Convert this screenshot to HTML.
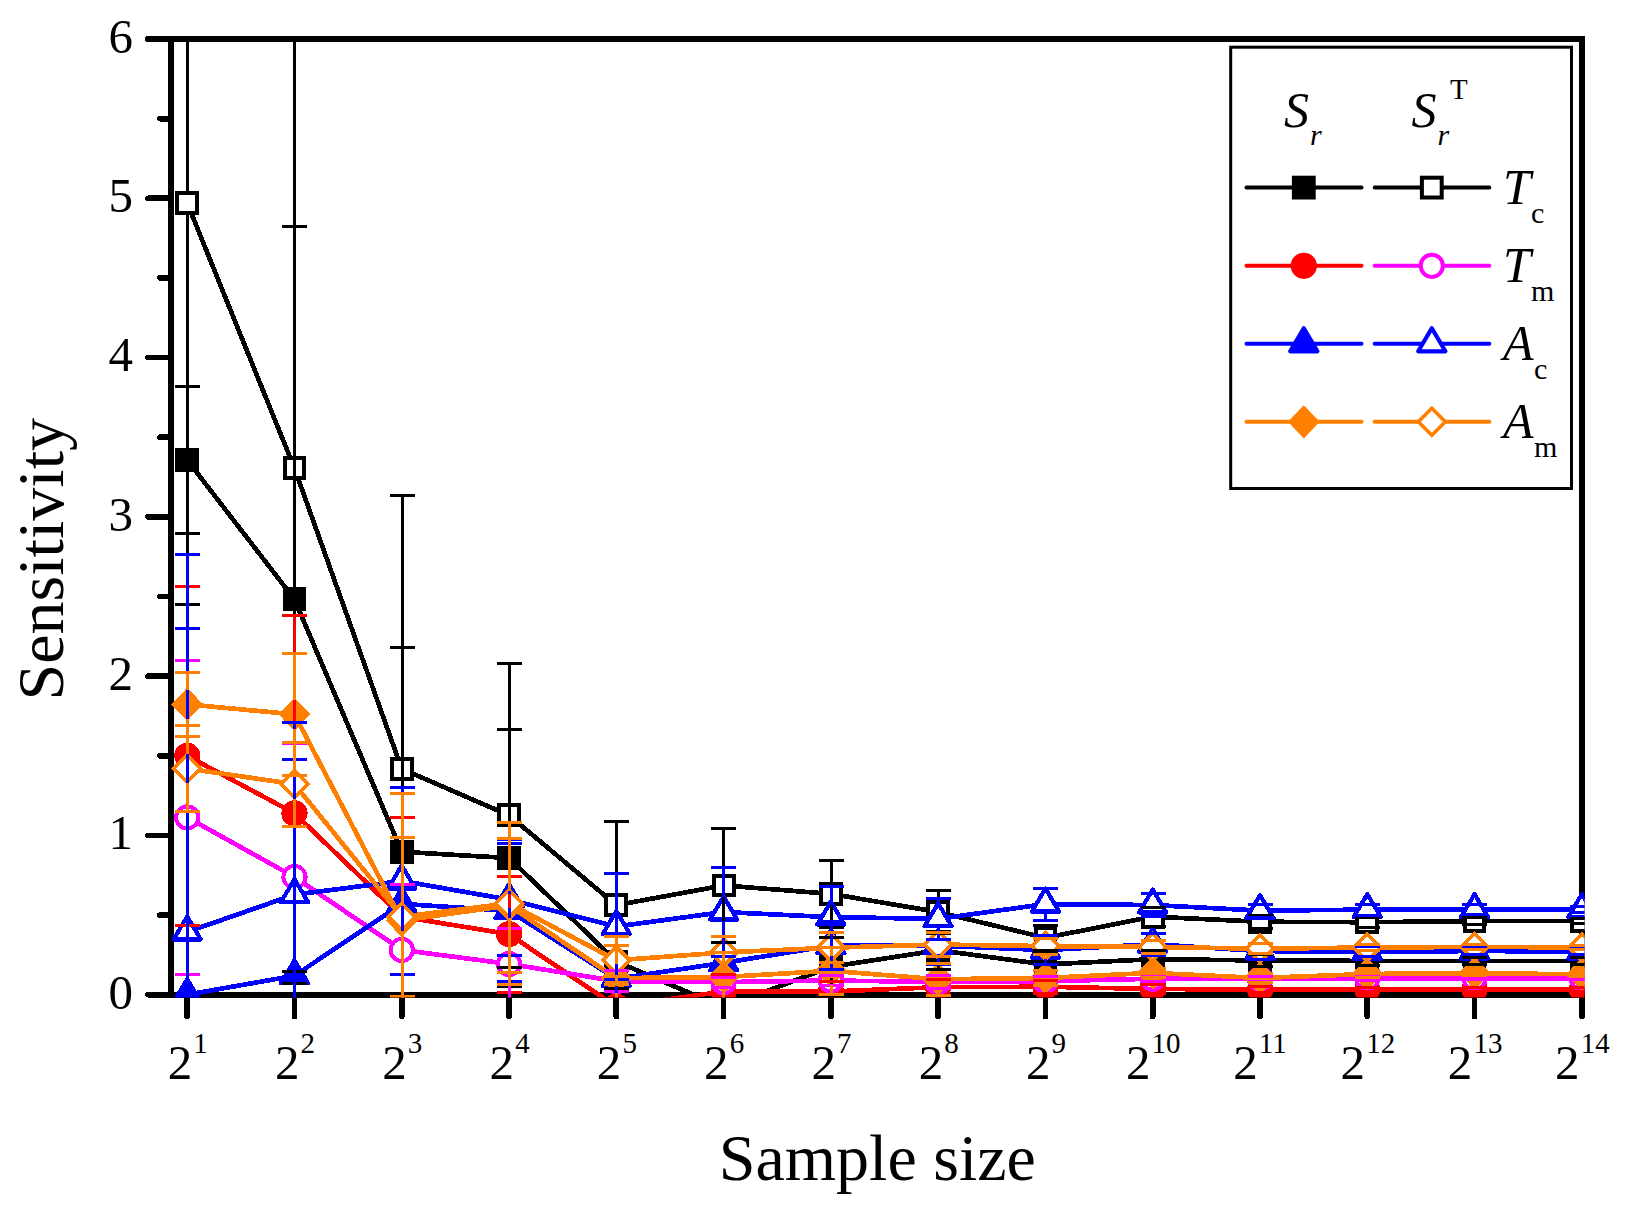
<!DOCTYPE html>
<html lang="en"><head><meta charset="utf-8"><title>Sensitivity vs sample size</title>
<style>html,body{margin:0;padding:0;background:#fff}svg{display:block}text{font-family:"Liberation Serif",serif;fill:#000}.i{font-style:italic}</style></head><body>
<svg width="1628" height="1208" viewBox="0 0 1628 1208">
<rect width="1628" height="1208" fill="#fff"/>
<g stroke="#000" stroke-width="5.7" stroke-linecap="round" fill="none" shape-rendering="crispEdges">
<rect x="171.2" y="39" width="1410.8" height="955.7" stroke-linejoin="miter"/>
<line x1="148" y1="994.7" x2="171.2" y2="994.7"/>
<line x1="148" y1="835.42" x2="171.2" y2="835.42"/>
<line x1="148" y1="676.14" x2="171.2" y2="676.14"/>
<line x1="148" y1="516.86" x2="171.2" y2="516.86"/>
<line x1="148" y1="357.58" x2="171.2" y2="357.58"/>
<line x1="148" y1="198.3" x2="171.2" y2="198.3"/>
<line x1="148" y1="39.02" x2="171.2" y2="39.02"/>
<line x1="160" y1="915.06" x2="171.2" y2="915.06"/>
<line x1="160" y1="755.78" x2="171.2" y2="755.78"/>
<line x1="160" y1="596.5" x2="171.2" y2="596.5"/>
<line x1="160" y1="437.22" x2="171.2" y2="437.22"/>
<line x1="160" y1="277.94" x2="171.2" y2="277.94"/>
<line x1="160" y1="118.66" x2="171.2" y2="118.66"/>
<line x1="187.2" y1="994.7" x2="187.2" y2="1016.5"/>
<line x1="294.48" y1="994.7" x2="294.48" y2="1016.5"/>
<line x1="401.76" y1="994.7" x2="401.76" y2="1016.5"/>
<line x1="509.04" y1="994.7" x2="509.04" y2="1016.5"/>
<line x1="616.32" y1="994.7" x2="616.32" y2="1016.5"/>
<line x1="723.6" y1="994.7" x2="723.6" y2="1016.5"/>
<line x1="830.88" y1="994.7" x2="830.88" y2="1016.5"/>
<line x1="938.16" y1="994.7" x2="938.16" y2="1016.5"/>
<line x1="1045.44" y1="994.7" x2="1045.44" y2="1016.5"/>
<line x1="1152.72" y1="994.7" x2="1152.72" y2="1016.5"/>
<line x1="1260" y1="994.7" x2="1260" y2="1016.5"/>
<line x1="1367.28" y1="994.7" x2="1367.28" y2="1016.5"/>
<line x1="1474.56" y1="994.7" x2="1474.56" y2="1016.5"/>
<line x1="1581.84" y1="994.7" x2="1581.84" y2="1016.5"/>
</g>
<g font-size="49">
<text x="133" y="1008.5" text-anchor="end">0</text>
<text x="133" y="849.22" text-anchor="end">1</text>
<text x="133" y="689.94" text-anchor="end">2</text>
<text x="133" y="530.66" text-anchor="end">3</text>
<text x="133" y="371.38" text-anchor="end">4</text>
<text x="133" y="212.1" text-anchor="end">5</text>
<text x="133" y="52.82" text-anchor="end">6</text>
<text x="167.7" y="1079">2</text><text x="193.3" y="1052.5" font-size="29">1</text>
<text x="274.98" y="1079">2</text><text x="300.58" y="1052.5" font-size="29">2</text>
<text x="382.26" y="1079">2</text><text x="407.86" y="1052.5" font-size="29">3</text>
<text x="489.54" y="1079">2</text><text x="515.14" y="1052.5" font-size="29">4</text>
<text x="596.82" y="1079">2</text><text x="622.42" y="1052.5" font-size="29">5</text>
<text x="704.1" y="1079">2</text><text x="729.7" y="1052.5" font-size="29">6</text>
<text x="811.38" y="1079">2</text><text x="836.98" y="1052.5" font-size="29">7</text>
<text x="918.66" y="1079">2</text><text x="944.26" y="1052.5" font-size="29">8</text>
<text x="1025.94" y="1079">2</text><text x="1051.54" y="1052.5" font-size="29">9</text>
<text x="1125.97" y="1079">2</text><text x="1151.57" y="1052.5" font-size="29">10</text>
<text x="1233.25" y="1079">2</text><text x="1258.85" y="1052.5" font-size="29">11</text>
<text x="1340.53" y="1079">2</text><text x="1366.13" y="1052.5" font-size="29">12</text>
<text x="1447.81" y="1079">2</text><text x="1473.41" y="1052.5" font-size="29">13</text>
<text x="1555.09" y="1079">2</text><text x="1580.69" y="1052.5" font-size="29">14</text>
</g>
<text x="877.3" y="1180" font-size="66" text-anchor="middle">Sample size</text>
<text transform="translate(62.8 700.4) rotate(-90)" font-size="66">Sensitivity</text>
<clipPath id="c"><rect x="168.4" y="36.2" width="1416.2" height="961.2"/></clipPath>
<g clip-path="url(#c)" shape-rendering="crispEdges">
<polyline points="187.2,460 294.48,599.37 401.76,851.83 509.04,858.04 616.32,961.41 723.6,1007.44 830.88,966.83 938.16,950.26 1045.44,964.44 1152.72,959.18 1260,960.45 1367.28,960.93 1474.56,961.09 1581.84,961.09" fill="none" stroke="#000000" stroke-width="4.7" stroke-linejoin="round"/>
<rect x="175.3" y="448.1" width="23.8" height="23.8" fill="#000000"/>
<rect x="282.58" y="587.47" width="23.8" height="23.8" fill="#000000"/>
<rect x="389.86" y="839.93" width="23.8" height="23.8" fill="#000000"/>
<rect x="497.14" y="846.14" width="23.8" height="23.8" fill="#000000"/>
<rect x="604.42" y="949.51" width="23.8" height="23.8" fill="#000000"/>
<rect x="711.7" y="995.54" width="23.8" height="23.8" fill="#000000"/>
<rect x="818.98" y="954.93" width="23.8" height="23.8" fill="#000000"/>
<rect x="926.26" y="938.36" width="23.8" height="23.8" fill="#000000"/>
<rect x="1033.54" y="952.54" width="23.8" height="23.8" fill="#000000"/>
<rect x="1140.82" y="947.28" width="23.8" height="23.8" fill="#000000"/>
<rect x="1248.1" y="948.55" width="23.8" height="23.8" fill="#000000"/>
<rect x="1355.38" y="949.03" width="23.8" height="23.8" fill="#000000"/>
<rect x="1462.66" y="949.19" width="23.8" height="23.8" fill="#000000"/>
<rect x="1569.94" y="949.19" width="23.8" height="23.8" fill="#000000"/>
<polyline points="187.2,203.08 294.48,468.28 401.76,768.84 509.04,815.35 616.32,905.18 723.6,885.43 830.88,893.88 938.16,912.03 1045.44,937.84 1152.72,916.65 1260,921.75 1367.28,922.23 1474.56,921.11 1581.84,921.11" fill="none" stroke="#000000" stroke-width="4.7" stroke-linejoin="round"/>
<rect x="177.3" y="193.18" width="19.8" height="19.8" fill="#fff" stroke="#000000" stroke-width="4"/>
<rect x="284.58" y="458.38" width="19.8" height="19.8" fill="#fff" stroke="#000000" stroke-width="4"/>
<rect x="391.86" y="758.94" width="19.8" height="19.8" fill="#fff" stroke="#000000" stroke-width="4"/>
<rect x="499.14" y="805.45" width="19.8" height="19.8" fill="#fff" stroke="#000000" stroke-width="4"/>
<rect x="606.42" y="895.28" width="19.8" height="19.8" fill="#fff" stroke="#000000" stroke-width="4"/>
<rect x="713.7" y="875.53" width="19.8" height="19.8" fill="#fff" stroke="#000000" stroke-width="4"/>
<rect x="820.98" y="883.98" width="19.8" height="19.8" fill="#fff" stroke="#000000" stroke-width="4"/>
<rect x="928.26" y="902.13" width="19.8" height="19.8" fill="#fff" stroke="#000000" stroke-width="4"/>
<rect x="1035.54" y="927.94" width="19.8" height="19.8" fill="#fff" stroke="#000000" stroke-width="4"/>
<rect x="1142.82" y="906.75" width="19.8" height="19.8" fill="#fff" stroke="#000000" stroke-width="4"/>
<rect x="1250.1" y="911.85" width="19.8" height="19.8" fill="#fff" stroke="#000000" stroke-width="4"/>
<rect x="1357.38" y="912.33" width="19.8" height="19.8" fill="#fff" stroke="#000000" stroke-width="4"/>
<rect x="1464.66" y="911.21" width="19.8" height="19.8" fill="#fff" stroke="#000000" stroke-width="4"/>
<rect x="1571.94" y="911.21" width="19.8" height="19.8" fill="#fff" stroke="#000000" stroke-width="4"/>
<polyline points="187.2,755.78 294.48,813.28 401.76,916.65 509.04,934.17 616.32,1006.65 723.6,991.51 830.88,991.51 938.16,987.21 1045.44,986.74 1152.72,988.97 1260,989.6 1367.28,989.6 1474.56,989.44 1581.84,989.44" fill="none" stroke="#ff0000" stroke-width="4.7" stroke-linejoin="round"/>
<circle cx="187.2" cy="755.78" r="13.1" fill="#ff0000"/>
<circle cx="294.48" cy="813.28" r="13.1" fill="#ff0000"/>
<circle cx="401.76" cy="916.65" r="13.1" fill="#ff0000"/>
<circle cx="509.04" cy="934.17" r="13.1" fill="#ff0000"/>
<circle cx="616.32" cy="1006.65" r="13.1" fill="#ff0000"/>
<circle cx="723.6" cy="991.51" r="13.1" fill="#ff0000"/>
<circle cx="830.88" cy="991.51" r="13.1" fill="#ff0000"/>
<circle cx="938.16" cy="987.21" r="13.1" fill="#ff0000"/>
<circle cx="1045.44" cy="986.74" r="13.1" fill="#ff0000"/>
<circle cx="1152.72" cy="988.97" r="13.1" fill="#ff0000"/>
<circle cx="1260" cy="989.6" r="13.1" fill="#ff0000"/>
<circle cx="1367.28" cy="989.6" r="13.1" fill="#ff0000"/>
<circle cx="1474.56" cy="989.44" r="13.1" fill="#ff0000"/>
<circle cx="1581.84" cy="989.44" r="13.1" fill="#ff0000"/>
<polyline points="187.2,817.42 294.48,876.99 401.76,949.94 509.04,963.96 616.32,981.16 723.6,982.12 830.88,980.52 938.16,981.96 1045.44,981.16 1152.72,978.77 1260,978.77 1367.28,978.45 1474.56,978.29 1581.84,978.29" fill="none" stroke="#ff00ff" stroke-width="4.7" stroke-linejoin="round"/>
<circle cx="187.2" cy="817.42" r="11.1" fill="#fff" stroke="#ff00ff" stroke-width="4"/>
<circle cx="294.48" cy="876.99" r="11.1" fill="#fff" stroke="#ff00ff" stroke-width="4"/>
<circle cx="401.76" cy="949.94" r="11.1" fill="#fff" stroke="#ff00ff" stroke-width="4"/>
<circle cx="509.04" cy="963.96" r="11.1" fill="#fff" stroke="#ff00ff" stroke-width="4"/>
<circle cx="616.32" cy="981.16" r="11.1" fill="#fff" stroke="#ff00ff" stroke-width="4"/>
<circle cx="723.6" cy="982.12" r="11.1" fill="#fff" stroke="#ff00ff" stroke-width="4"/>
<circle cx="830.88" cy="980.52" r="11.1" fill="#fff" stroke="#ff00ff" stroke-width="4"/>
<circle cx="938.16" cy="981.96" r="11.1" fill="#fff" stroke="#ff00ff" stroke-width="4"/>
<circle cx="1045.44" cy="981.16" r="11.1" fill="#fff" stroke="#ff00ff" stroke-width="4"/>
<circle cx="1152.72" cy="978.77" r="11.1" fill="#fff" stroke="#ff00ff" stroke-width="4"/>
<circle cx="1260" cy="978.77" r="11.1" fill="#fff" stroke="#ff00ff" stroke-width="4"/>
<circle cx="1367.28" cy="978.45" r="11.1" fill="#fff" stroke="#ff00ff" stroke-width="4"/>
<circle cx="1474.56" cy="978.29" r="11.1" fill="#fff" stroke="#ff00ff" stroke-width="4"/>
<circle cx="1581.84" cy="978.29" r="11.1" fill="#fff" stroke="#ff00ff" stroke-width="4"/>
<polyline points="187.2,994.7 294.48,975.75 401.76,903.91 509.04,910.76 616.32,978.77 723.6,962.84 830.88,945.64 938.16,945.64 1045.44,950.1 1152.72,944.21 1260,951.06 1367.28,951.69 1474.56,951.06 1581.84,951.38" fill="none" stroke="#0000ff" stroke-width="4.7" stroke-linejoin="round"/>
<polygon points="187.2,979.2 200.8,1002.2 173.6,1002.2" fill="#0000ff" stroke="#0000ff" stroke-width="4.2" stroke-linejoin="round"/>
<polygon points="294.48,960.25 308.08,983.25 280.88,983.25" fill="#0000ff" stroke="#0000ff" stroke-width="4.2" stroke-linejoin="round"/>
<polygon points="401.76,888.41 415.36,911.41 388.16,911.41" fill="#0000ff" stroke="#0000ff" stroke-width="4.2" stroke-linejoin="round"/>
<polygon points="509.04,895.26 522.64,918.26 495.44,918.26" fill="#0000ff" stroke="#0000ff" stroke-width="4.2" stroke-linejoin="round"/>
<polygon points="616.32,963.27 629.92,986.27 602.72,986.27" fill="#0000ff" stroke="#0000ff" stroke-width="4.2" stroke-linejoin="round"/>
<polygon points="723.6,947.34 737.2,970.34 710,970.34" fill="#0000ff" stroke="#0000ff" stroke-width="4.2" stroke-linejoin="round"/>
<polygon points="830.88,930.14 844.48,953.14 817.28,953.14" fill="#0000ff" stroke="#0000ff" stroke-width="4.2" stroke-linejoin="round"/>
<polygon points="938.16,930.14 951.76,953.14 924.56,953.14" fill="#0000ff" stroke="#0000ff" stroke-width="4.2" stroke-linejoin="round"/>
<polygon points="1045.44,934.6 1059.04,957.6 1031.84,957.6" fill="#0000ff" stroke="#0000ff" stroke-width="4.2" stroke-linejoin="round"/>
<polygon points="1152.72,928.71 1166.32,951.71 1139.12,951.71" fill="#0000ff" stroke="#0000ff" stroke-width="4.2" stroke-linejoin="round"/>
<polygon points="1260,935.56 1273.6,958.56 1246.4,958.56" fill="#0000ff" stroke="#0000ff" stroke-width="4.2" stroke-linejoin="round"/>
<polygon points="1367.28,936.19 1380.88,959.19 1353.68,959.19" fill="#0000ff" stroke="#0000ff" stroke-width="4.2" stroke-linejoin="round"/>
<polygon points="1474.56,935.56 1488.16,958.56 1460.96,958.56" fill="#0000ff" stroke="#0000ff" stroke-width="4.2" stroke-linejoin="round"/>
<polygon points="1581.84,935.88 1595.44,958.88 1568.24,958.88" fill="#0000ff" stroke="#0000ff" stroke-width="4.2" stroke-linejoin="round"/>
<polyline points="187.2,931.94 294.48,894.67 401.76,880.97 509.04,899.61 616.32,926.53 723.6,912.03 830.88,917.13 938.16,918.88 1045.44,904.07 1152.72,905.03 1260,910.6 1367.28,909.64 1474.56,909.64 1581.84,909.64" fill="none" stroke="#0000ff" stroke-width="4.7" stroke-linejoin="round"/>
<polygon points="187.2,916.44 200.8,939.44 173.6,939.44" fill="#fff" stroke="#0000ff" stroke-width="4.2" stroke-linejoin="round"/>
<polygon points="294.48,879.17 308.08,902.17 280.88,902.17" fill="#fff" stroke="#0000ff" stroke-width="4.2" stroke-linejoin="round"/>
<polygon points="401.76,865.47 415.36,888.47 388.16,888.47" fill="#fff" stroke="#0000ff" stroke-width="4.2" stroke-linejoin="round"/>
<polygon points="509.04,884.11 522.64,907.11 495.44,907.11" fill="#fff" stroke="#0000ff" stroke-width="4.2" stroke-linejoin="round"/>
<polygon points="616.32,911.03 629.92,934.03 602.72,934.03" fill="#fff" stroke="#0000ff" stroke-width="4.2" stroke-linejoin="round"/>
<polygon points="723.6,896.53 737.2,919.53 710,919.53" fill="#fff" stroke="#0000ff" stroke-width="4.2" stroke-linejoin="round"/>
<polygon points="830.88,901.63 844.48,924.63 817.28,924.63" fill="#fff" stroke="#0000ff" stroke-width="4.2" stroke-linejoin="round"/>
<polygon points="938.16,903.38 951.76,926.38 924.56,926.38" fill="#fff" stroke="#0000ff" stroke-width="4.2" stroke-linejoin="round"/>
<polygon points="1045.44,888.57 1059.04,911.57 1031.84,911.57" fill="#fff" stroke="#0000ff" stroke-width="4.2" stroke-linejoin="round"/>
<polygon points="1152.72,889.53 1166.32,912.53 1139.12,912.53" fill="#fff" stroke="#0000ff" stroke-width="4.2" stroke-linejoin="round"/>
<polygon points="1260,895.1 1273.6,918.1 1246.4,918.1" fill="#fff" stroke="#0000ff" stroke-width="4.2" stroke-linejoin="round"/>
<polygon points="1367.28,894.14 1380.88,917.14 1353.68,917.14" fill="#fff" stroke="#0000ff" stroke-width="4.2" stroke-linejoin="round"/>
<polygon points="1474.56,894.14 1488.16,917.14 1460.96,917.14" fill="#fff" stroke="#0000ff" stroke-width="4.2" stroke-linejoin="round"/>
<polygon points="1581.84,894.14 1595.44,917.14 1568.24,917.14" fill="#fff" stroke="#0000ff" stroke-width="4.2" stroke-linejoin="round"/>
<polyline points="187.2,704.33 294.48,714.37 401.76,920.48 509.04,905.5 616.32,978.13 723.6,977.02 830.88,970.81 938.16,979.25 1045.44,977.98 1152.72,972.88 1260,977.98 1367.28,973.99 1474.56,973.2 1581.84,974.31" fill="none" stroke="#ff8000" stroke-width="4.7" stroke-linejoin="round"/>
<polygon points="187.2,687.73 203.1,704.33 187.2,720.93 171.3,704.33" fill="#ff8000"/>
<polygon points="294.48,697.77 310.38,714.37 294.48,730.97 278.58,714.37" fill="#ff8000"/>
<polygon points="401.76,903.88 417.66,920.48 401.76,937.08 385.86,920.48" fill="#ff8000"/>
<polygon points="509.04,888.9 524.94,905.5 509.04,922.1 493.14,905.5" fill="#ff8000"/>
<polygon points="616.32,961.53 632.22,978.13 616.32,994.73 600.42,978.13" fill="#ff8000"/>
<polygon points="723.6,960.42 739.5,977.02 723.6,993.62 707.7,977.02" fill="#ff8000"/>
<polygon points="830.88,954.21 846.78,970.81 830.88,987.41 814.98,970.81" fill="#ff8000"/>
<polygon points="938.16,962.65 954.06,979.25 938.16,995.85 922.26,979.25" fill="#ff8000"/>
<polygon points="1045.44,961.38 1061.34,977.98 1045.44,994.58 1029.54,977.98" fill="#ff8000"/>
<polygon points="1152.72,956.28 1168.62,972.88 1152.72,989.48 1136.82,972.88" fill="#ff8000"/>
<polygon points="1260,961.38 1275.9,977.98 1260,994.58 1244.1,977.98" fill="#ff8000"/>
<polygon points="1367.28,957.39 1383.18,973.99 1367.28,990.59 1351.38,973.99" fill="#ff8000"/>
<polygon points="1474.56,956.6 1490.46,973.2 1474.56,989.8 1458.66,973.2" fill="#ff8000"/>
<polygon points="1581.84,957.71 1597.74,974.31 1581.84,990.91 1565.94,974.31" fill="#ff8000"/>
<polyline points="187.2,768.52 294.48,784.13 401.76,916.81 509.04,903.43 616.32,960.3 723.6,952.49 830.88,947.71 938.16,944.53 1045.44,946.12 1152.72,946.92 1260,948.67 1367.28,947.55 1474.56,946.92 1581.84,947.39" fill="none" stroke="#ff8000" stroke-width="4.7" stroke-linejoin="round"/>
<polygon points="187.2,755.07 200.65,768.52 187.2,781.98 173.75,768.52" fill="#fff" stroke="#ff8000" stroke-width="3.6"/>
<polygon points="294.48,770.68 307.93,784.13 294.48,797.59 281.03,784.13" fill="#fff" stroke="#ff8000" stroke-width="3.6"/>
<polygon points="401.76,903.36 415.21,916.81 401.76,930.27 388.31,916.81" fill="#fff" stroke="#ff8000" stroke-width="3.6"/>
<polygon points="509.04,889.98 522.49,903.43 509.04,916.89 495.59,903.43" fill="#fff" stroke="#ff8000" stroke-width="3.6"/>
<polygon points="616.32,946.84 629.77,960.3 616.32,973.75 602.87,960.3" fill="#fff" stroke="#ff8000" stroke-width="3.6"/>
<polygon points="723.6,939.04 737.05,952.49 723.6,965.95 710.15,952.49" fill="#fff" stroke="#ff8000" stroke-width="3.6"/>
<polygon points="830.88,934.26 844.33,947.71 830.88,961.17 817.43,947.71" fill="#fff" stroke="#ff8000" stroke-width="3.6"/>
<polygon points="938.16,931.07 951.61,944.53 938.16,957.98 924.71,944.53" fill="#fff" stroke="#ff8000" stroke-width="3.6"/>
<polygon points="1045.44,932.67 1058.89,946.12 1045.44,959.57 1031.99,946.12" fill="#fff" stroke="#ff8000" stroke-width="3.6"/>
<polygon points="1152.72,933.46 1166.17,946.92 1152.72,960.37 1139.27,946.92" fill="#fff" stroke="#ff8000" stroke-width="3.6"/>
<polygon points="1260,935.21 1273.45,948.67 1260,962.12 1246.55,948.67" fill="#fff" stroke="#ff8000" stroke-width="3.6"/>
<polygon points="1367.28,934.1 1380.73,947.55 1367.28,961.01 1353.83,947.55" fill="#fff" stroke="#ff8000" stroke-width="3.6"/>
<polygon points="1474.56,933.46 1488.01,946.92 1474.56,960.37 1461.11,946.92" fill="#fff" stroke="#ff8000" stroke-width="3.6"/>
<polygon points="1581.84,933.94 1595.29,947.39 1581.84,960.85 1568.39,947.39" fill="#fff" stroke="#ff8000" stroke-width="3.6"/>
<path d="M187.5 448.5V386.09M175 386.09H200M187.5 471.5V533.9M175 533.9H200M294.78 587.87V226.97M282.28 226.97H307.28M294.78 610.87V971.76M282.28 971.76H307.28M402.06 840.33V647.47M389.56 647.47H414.56M402.06 863.33V1056.18M389.56 1056.18H414.56M509.34 846.54V729.34M496.84 729.34H521.84M509.34 869.54V986.74M496.84 986.74H521.84M831.18 955.33V937.04M818.68 937.04H843.68M831.18 978.33V996.61M818.68 996.61H843.68M938.46 938.76V931.15M925.96 931.15H950.96M938.46 961.76V969.37M925.96 969.37H950.96M1045.74 952.94V952.49M1033.24 952.49H1058.24M1045.74 975.94V976.38M1033.24 976.38H1058.24M1140.52 950.26H1165.52M1140.52 968.1H1165.52M1247.8 954.08H1272.8M1247.8 966.83H1272.8M1355.08 956.15H1380.08M1355.08 965.71H1380.08M1462.36 957.91H1487.36M1462.36 964.28H1487.36M1569.64 957.91H1594.64M1569.64 964.28H1594.64" fill="none" stroke="#000000" stroke-width="3"/>
<path d="M187.5 191.58V-198.31M175 -198.31H200M187.5 214.58V604.46M175 604.46H200M294.78 456.78V-47.15M282.28 -47.15H307.28M294.78 479.78V983.71M282.28 983.71H307.28M402.06 757.34V495.68M389.56 495.68H414.56M402.06 780.34V1042.01M389.56 1042.01H414.56M509.34 803.85V663.4M496.84 663.4H521.84M509.34 826.85V967.3M496.84 967.3H521.84M616.62 893.68V821.56M604.12 821.56H629.12M616.62 916.68V988.81M604.12 988.81H629.12M723.9 873.93V828.09M711.4 828.09H736.4M723.9 896.93V942.77M711.4 942.77H736.4M831.18 882.38V860.43M818.68 860.43H843.68M831.18 905.38V927.32M818.68 927.32H843.68M938.46 900.53V890.37M925.96 890.37H950.96M938.46 923.53V933.7M925.96 933.7H950.96M1045.74 926.34V925.09M1033.24 925.09H1058.24M1045.74 949.34V950.58M1033.24 950.58H1058.24M1140.52 907.1H1165.52M1140.52 926.21H1165.52M1247.8 915.38H1272.8M1247.8 928.12H1272.8M1355.08 917.45H1380.08M1355.08 927.01H1380.08M1462.36 917.93H1487.36M1462.36 924.3H1487.36M1569.64 918.72H1594.64M1569.64 923.5H1594.64" fill="none" stroke="#000000" stroke-width="3"/>
<path d="M187.5 743.28V586.47M175 586.47H200M187.5 768.28V925.09M175 925.09H200M294.78 800.78V615.3M282.28 615.3H307.28M294.78 825.78V1011.27M282.28 1011.27H307.28M402.06 904.15V817.9M389.56 817.9H414.56M402.06 929.15V1015.41M389.56 1015.41H414.56M509.34 921.67V876.04M496.84 876.04H521.84M509.34 946.67V992.31M496.84 992.31H521.84M723.9 979.01V974.47M711.4 974.47H736.4M723.9 1004.01V1008.56M711.4 1008.56H736.4M818.68 981.96H843.68M818.68 1001.07H843.68M925.96 979.25H950.96M925.96 995.18H950.96M1033.24 980.36H1058.24M1033.24 993.11H1058.24M1140.52 984.19H1165.52M1140.52 993.74H1165.52M1247.8 986.42H1272.8M1247.8 992.79H1272.8M1355.08 987.21H1380.08M1355.08 991.99H1380.08M1462.36 987.85H1487.36M1462.36 991.04H1487.36M1569.64 987.85H1594.64M1569.64 991.04H1594.64" fill="none" stroke="#ff0000" stroke-width="3"/>
<path d="M187.5 804.92V660.53M175 660.53H200M187.5 829.92V974.31M175 974.31H200M294.78 864.49V743.83M282.28 743.83H307.28M294.78 889.49V1010.15M282.28 1010.15H307.28M402.06 937.44V884.16M389.56 884.16H414.56M402.06 962.44V1015.72M389.56 1015.72H414.56M509.34 951.46V928.44M496.84 928.44H521.84M509.34 976.46V999.48M496.84 999.48H521.84M604.12 970.81H629.12M604.12 991.51H629.12M711.4 977.18H736.4M711.4 987.05H736.4M818.68 975.75H843.68M818.68 985.3H843.68M925.96 975.59H950.96M925.96 988.33H950.96M1033.24 976.7H1058.24M1033.24 985.62H1058.24M1140.52 976.38H1165.52M1140.52 981.16H1165.52M1247.8 976.38H1272.8M1247.8 981.16H1272.8M1355.08 976.86H1380.08M1355.08 980.05H1380.08M1462.36 976.7H1487.36M1462.36 979.89H1487.36M1569.64 976.7H1594.64M1569.64 979.89H1594.64" fill="none" stroke="#ff00ff" stroke-width="3"/>
<path d="M187.5 977.7V628.52M175 628.52H200M187.5 1003.2V1360.88M175 1360.88H200M294.78 958.75V759.44M282.28 759.44H307.28M294.78 984.25V1192.05M282.28 1192.05H307.28M509.34 893.76V839.88M496.84 839.88H521.84M509.34 919.26V981.64M496.84 981.64H521.84M616.62 961.77V873.33M604.12 873.33H629.12M616.62 987.27V1084.22M604.12 1084.22H629.12M831.18 928.64V921.75M818.68 921.75H843.68M831.18 954.14V969.53M818.68 969.53H843.68M938.46 928.64V926.53M925.96 926.53H950.96M938.46 954.14V964.76M925.96 964.76H950.96M1033.24 935.77H1058.24M1045.74 958.6V964.44M1033.24 964.44H1058.24M1140.52 933.06H1165.52M1153.02 952.71V955.36M1140.52 955.36H1165.52M1247.8 943.09H1272.8M1247.8 959.02H1272.8M1355.08 946.92H1380.08M1355.08 956.47H1380.08M1462.36 947.87H1487.36M1462.36 954.24H1487.36M1569.64 948.19H1594.64M1569.64 954.56H1594.64" fill="none" stroke="#0000ff" stroke-width="3"/>
<path d="M187.5 914.94V554.93M175 554.93H200M187.5 940.44V1308.96M175 1308.96H200M294.78 877.67V722.65M282.28 722.65H307.28M294.78 903.17V1066.69M282.28 1066.69H307.28M402.06 863.97V787.48M389.56 787.48H414.56M402.06 889.47V974.47M389.56 974.47H414.56M509.34 882.61V843.86M496.84 843.86H521.84M509.34 908.11V955.36M496.84 955.36H521.84M616.62 909.53V873.17M604.12 873.17H629.12M616.62 935.03V979.89M604.12 979.89H629.12M723.9 895.03V867.59M711.4 867.59H736.4M723.9 920.53V956.47M711.4 956.47H736.4M831.18 900.13V886.87M818.68 886.87H843.68M831.18 925.63V947.39M818.68 947.39H843.68M938.46 901.88V898.65M925.96 898.65H950.96M938.46 927.38V939.11M925.96 939.11H950.96M1033.24 888.14H1058.24M1045.74 912.57V920M1033.24 920H1058.24M1140.52 893.56H1165.52M1153.02 913.53V916.49M1140.52 916.49H1165.52M1247.8 904.07H1272.8M1247.8 917.13H1272.8M1355.08 904.07H1380.08M1355.08 915.22H1380.08M1462.36 904.87H1487.36M1462.36 914.42H1487.36M1569.64 906.46H1594.64M1569.64 912.83H1594.64" fill="none" stroke="#0000ff" stroke-width="3"/>
<path d="M187.5 689.83V672.48M175 672.48H200M187.5 718.83V736.19M175 736.19H200M294.78 699.87V653.36M282.28 653.36H307.28M294.78 728.87V775.37M282.28 775.37H307.28M402.06 905.98V793.05M389.56 793.05H414.56M402.06 934.98V1047.9M389.56 1047.9H414.56M509.34 891V838.61M496.84 838.61H521.84M509.34 920V972.4M496.84 972.4H521.84M616.62 963.63V945.48M604.12 945.48H629.12M616.62 992.63V1010.79M604.12 1010.79H629.12M723.9 962.52V952.49M711.4 952.49H736.4M723.9 991.52V1001.55M711.4 1001.55H736.4M831.18 956.31V947.23M818.68 947.23H843.68M831.18 985.31V994.38M818.68 994.38H843.68M938.46 964.75V963.32M925.96 963.32H950.96M938.46 993.75V995.18M925.96 995.18H950.96M1033.24 970.01H1058.24M1033.24 985.94H1058.24M1140.52 968.1H1165.52M1140.52 977.66H1165.52M1247.8 973.2H1272.8M1247.8 982.75H1272.8M1355.08 970.81H1380.08M1355.08 977.18H1380.08M1462.36 970.81H1487.36M1462.36 975.59H1487.36M1569.64 971.92H1594.64M1569.64 976.7H1594.64" fill="none" stroke="#ff8000" stroke-width="3"/>
<path d="M187.5 754.02V725.52M175 725.52H200M187.5 783.02V811.53M175 811.53H200M294.78 769.63V742.24M282.28 742.24H307.28M294.78 798.63V826.02M282.28 826.02H307.28M402.06 902.31V837.49M389.56 837.49H414.56M402.06 931.31V996.13M389.56 996.13H414.56M509.34 888.93V822.2M496.84 822.2H521.84M509.34 917.93V984.67M496.84 984.67H521.84M616.62 945.8V936.4M604.12 936.4H629.12M616.62 974.8V984.19M604.12 984.19H629.12M723.9 937.99V936.56M711.4 936.56H736.4M831.18 933.21V932.58M818.68 932.58H843.68M831.18 962.21V962.84M818.68 962.84H843.68M925.96 932.58H950.96M925.96 956.47H950.96M1033.24 938.16H1058.24M1033.24 954.08H1058.24M1140.52 940.54H1165.52M1140.52 953.29H1165.52M1247.8 943.89H1272.8M1247.8 953.45H1272.8M1355.08 944.37H1380.08M1355.08 950.74H1380.08M1462.36 944.53H1487.36M1462.36 949.31H1487.36M1569.64 945H1594.64M1569.64 949.78H1594.64" fill="none" stroke="#ff8000" stroke-width="3"/>
</g>
<rect x="1230.7" y="47.2" width="340.8" height="441.3" fill="#fff" stroke="#000" stroke-width="3"/>
<line x1="1246.5" y1="187.6" x2="1361.5" y2="187.6" stroke="#000000" stroke-width="4" stroke-linecap="round"/>
<rect x="1291.9" y="175.7" width="23.8" height="23.8" fill="#000000"/>
<line x1="1374.7" y1="187.6" x2="1489.3" y2="187.6" stroke="#000000" stroke-width="4" stroke-linecap="round"/>
<rect x="1421.9" y="177.7" width="19.8" height="19.8" fill="#fff" stroke="#000000" stroke-width="4"/>
<line x1="1246.5" y1="265.8" x2="1361.5" y2="265.8" stroke="#ff0000" stroke-width="4" stroke-linecap="round"/>
<circle cx="1303.8" cy="265.8" r="13.1" fill="#ff0000"/>
<line x1="1374.7" y1="265.8" x2="1489.3" y2="265.8" stroke="#ff00ff" stroke-width="4" stroke-linecap="round"/>
<circle cx="1431.8" cy="265.8" r="11.1" fill="#fff" stroke="#ff00ff" stroke-width="4"/>
<line x1="1246.5" y1="343.8" x2="1361.5" y2="343.8" stroke="#0000ff" stroke-width="4" stroke-linecap="round"/>
<polygon points="1303.8,328.3 1317.4,351.3 1290.2,351.3" fill="#0000ff" stroke="#0000ff" stroke-width="4.2" stroke-linejoin="round"/>
<line x1="1374.7" y1="343.8" x2="1489.3" y2="343.8" stroke="#0000ff" stroke-width="4" stroke-linecap="round"/>
<polygon points="1431.8,328.3 1445.4,351.3 1418.2,351.3" fill="#fff" stroke="#0000ff" stroke-width="4.2" stroke-linejoin="round"/>
<line x1="1246.5" y1="421.8" x2="1361.5" y2="421.8" stroke="#ff8000" stroke-width="4" stroke-linecap="round"/>
<polygon points="1303.8,405.2 1319.7,421.8 1303.8,438.4 1287.9,421.8" fill="#ff8000"/>
<line x1="1374.7" y1="421.8" x2="1489.3" y2="421.8" stroke="#ff8000" stroke-width="4" stroke-linecap="round"/>
<polygon points="1431.8,408.35 1445.25,421.8 1431.8,435.25 1418.35,421.8" fill="#fff" stroke="#ff8000" stroke-width="3.6"/>
<text x="1503" y="204.2" font-size="50" class="i">T</text><text x="1531" y="223.2" font-size="30">c</text>
<text x="1503" y="282.4" font-size="50" class="i">T</text><text x="1531" y="301.4" font-size="30">m</text>
<text x="1503" y="360.4" font-size="50" class="i">A</text><text x="1534" y="379.4" font-size="30">c</text>
<text x="1503" y="438.4" font-size="50" class="i">A</text><text x="1534" y="457.4" font-size="30">m</text>
<text x="1284" y="126.6" font-size="50" class="i">S</text><text x="1310" y="145" font-size="30" class="i">r</text>
<text x="1411.5" y="126.6" font-size="50" class="i">S</text><text x="1437.5" y="145" font-size="30" class="i">r</text><text x="1450" y="99" font-size="29">T</text>
</svg></body></html>
